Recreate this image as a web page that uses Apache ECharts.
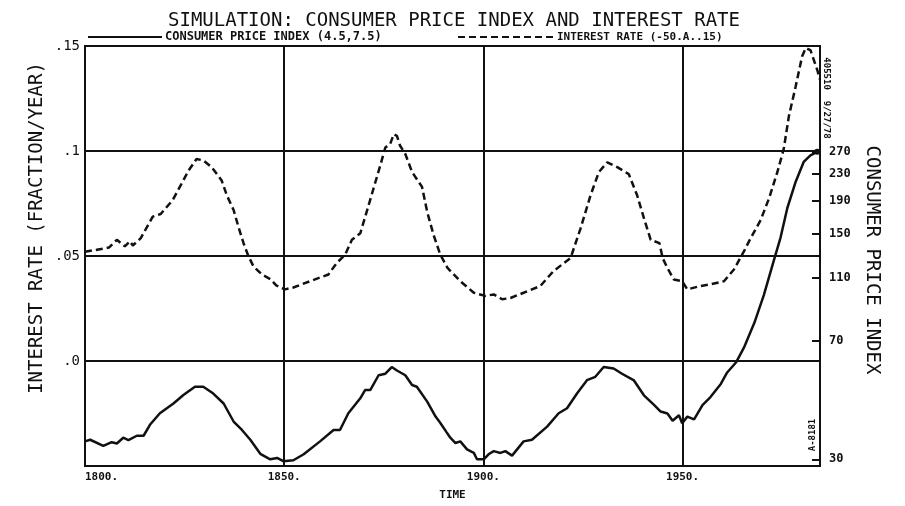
<!DOCTYPE html>
<html>
<head>
<meta charset="utf-8">
<script src="https://cdn.jsdelivr.net/npm/echarts@6/dist/echarts.min.js"></script>
<style>
html,body{margin:0;padding:0;background:#fff;}
#c{width:905px;height:506px;}
</style>
</head>
<body>
<div id="c"></div>
<script>
// ---- data ----
var rateYears = [1800,1803,1806,1808,1810,1811.3,1812,1814,1817,1819,1822,1824,1826,1828,1829.7,1831.8,1834.3,1835.6,1837.3,1838.5,1839.8,1841,1842.3,1844.4,1846.5,1848,1850.2,1852.3,1856.5,1861.1,1863.2,1865.3,1867,1869.1,1870.7,1872.4,1874.1,1875.4,1876.6,1877.5,1878.3,1879.1,1880.4,1882.1,1884.6,1885.9,1887.5,1889.2,1891,1894.2,1897.6,1900.5,1902.6,1904.7,1906.8,1910.1,1914.3,1917.6,1921.9,1924.4,1926.9,1929,1931.1,1933.6,1936.5,1938.6,1940.3,1942,1944.2,1945,1946.2,1947.8,1949.9,1951.2,1954.5,1957,1960.4,1962.9,1965.4,1967.1,1969.6,1971.7,1973.8,1975.4,1976.7,1978.4,1980,1980.9,1982.1,1983.8,1984.5];
var rateValues = [0.052,0.053,0.054,0.0577,0.0546,0.057,0.055,0.0585,0.0687,0.070,0.0766,0.0836,0.0907,0.0962,0.0955,0.0923,0.086,0.0789,0.0719,0.064,0.0561,0.050,0.045,0.0412,0.039,0.036,0.0341,0.035,0.038,0.0412,0.0467,0.0506,0.0577,0.0608,0.071,0.082,0.093,0.1017,0.1033,0.108,0.1072,0.1025,0.0986,0.090,0.0829,0.071,0.060,0.0506,0.0443,0.038,0.0325,0.031,0.0317,0.0294,0.030,0.0325,0.0357,0.0428,0.0491,0.0632,0.0789,0.090,0.0946,0.0923,0.089,0.0789,0.068,0.0577,0.0561,0.049,0.0443,0.0388,0.038,0.0341,0.0357,0.0365,0.038,0.0436,0.0522,0.0585,0.0671,0.0774,0.090,0.101,0.1167,0.1308,0.145,0.149,0.148,0.1387,0.134];

var cpiYears = [1800,1801.3,1804.6,1806.7,1808,1809.6,1810.9,1813,1814.7,1816.3,1818.8,1822.2,1824.7,1827.6,1829.7,1832.2,1834.8,1837.3,1839.4,1841.5,1844,1846.5,1848.2,1849.8,1852.3,1854.9,1859,1862.4,1864,1866.1,1869.1,1870.3,1871.6,1873.7,1875.4,1877,1878.3,1880.4,1882.1,1883.3,1885.9,1888,1889.2,1890.7,1891.7,1893,1894.2,1895.9,1897.6,1898.4,1900.1,1901.3,1902.6,1904.3,1905.5,1907.2,1910.1,1912.2,1916,1918.9,1921,1923.5,1926,1928.1,1930.2,1932.7,1934.8,1937.8,1940.3,1942.9,1944.5,1946.2,1947.5,1949.1,1949.9,1951.2,1952.9,1955,1957,1959.6,1961.2,1963.4,1965.4,1968,1970.4,1972.9,1974.6,1976.3,1978.4,1980.4,1982.1,1983.8];
var cpiValues = [34.1,34.5,33.0,33.9,33.6,35.0,34.4,35.5,35.5,38.4,41.7,44.7,47.5,50.4,50.4,48.0,44.7,39.3,37.0,34.5,31.2,30.0,30.3,29.6,29.8,31.1,34.1,37.0,37.0,41.7,46.4,49.2,49.2,54.7,55.3,58.0,56.6,54.7,51.0,50.4,45.3,40.7,38.9,36.5,35.0,33.7,34.1,32.2,31.4,30.0,30.0,31.1,31.8,31.4,31.8,30.8,34.1,34.5,37.9,41.7,43.2,48.0,52.8,54.1,58.0,57.4,55.3,52.7,47.4,44.2,42.2,41.6,39.5,41.1,38.8,40.7,39.9,44.2,46.8,51.4,55.8,59.9,66.6,79.4,97.0,124.1,146.3,180.7,218.1,251.1,263.2,270];

var timeTicks = [1800,1850,1900,1950];
var cpiTicks = [30,70,110,150,190,230,270];

var INK = '#111';
var MONO = 'DejaVu Sans Mono';

function pairs(xs, ys){ return xs.map(function(x,i){ return [x, ys[i]]; }); }

var cpiData = pairs(cpiYears, cpiValues).map(function(p,i,arr){
  if (i === arr.length-1) return {value:p, symbol:'circle', symbolSize:6, itemStyle:{color:INK}};
  return p;
});

var chart = echarts.init(document.getElementById('c'), null, {renderer:'canvas'});
chart.setOption({
  backgroundColor:'#fff',
  animation:false,
  title:{
    text:'SIMULATION: CONSUMER PRICE INDEX AND INTEREST RATE',
    left:163, top:7,
    textStyle:{fontFamily:MONO, fontSize:19, fontWeight:'normal', color:INK}
  },
  grid:{left:85, right:85, top:46, bottom:35, show:true, borderColor:INK, borderWidth:2, backgroundColor:'transparent'},
  xAxis:{
    type:'value', min:1800, max:1984.5, interval:50,
    name:'TIME', nameLocation:'middle', nameGap:24,
    nameTextStyle:{fontFamily:MONO, fontSize:11, fontWeight:'bold', color:INK},
    axisLine:{show:true, lineStyle:{color:INK, width:2}},
    axisTick:{show:false},
    axisLabel:{fontFamily:MONO, fontSize:11, fontWeight:'bold', color:INK, margin:6,
      showMaxLabel:false, alignMinLabel:'left',
      formatter:function(v){ return timeTicks.indexOf(v) >= 0 ? v + '.' : ''; }},
    splitLine:{show:true, lineStyle:{color:INK, width:2}}
  },
  yAxis:[{
    type:'value', min:-0.05, max:0.15, interval:0.05, position:'left',
    axisLine:{show:true, lineStyle:{color:INK, width:2}},
    axisTick:{show:false},
    axisLabel:{fontFamily:MONO, fontSize:14, color:INK, margin:5, showMinLabel:false,
      formatter:function(v){ var r=Math.round(v*100)/100; return r===0 ? '.0' : String(r).replace('0.','.'); }},
    splitLine:{show:true, lineStyle:{color:INK, width:2}}
  },{
    type:'log', logBase:Math.E, min:28.6, max:575, position:'right',
    axisLine:{show:true, lineStyle:{color:INK, width:2}},
    axisTick:{show:true, inside:true, length:8, customValues:cpiTicks, lineStyle:{color:INK, width:2}},
    axisLabel:{fontFamily:MONO, fontSize:12, fontWeight:'bold', color:INK, margin:9, customValues:cpiTicks,
      formatter:function(v){ return String(Math.round(v)); }},
    splitLine:{show:false}
  }],
  series:[{
    name:'CONSUMER PRICE INDEX', type:'line', yAxisIndex:1, data:cpiData,
    showSymbol:true, symbol:'none', lineStyle:{color:INK, width:2.5}, itemStyle:{color:INK}, z:3
  },{
    name:'INTEREST RATE', type:'line', yAxisIndex:0, data:pairs(rateYears, rateValues),
    symbol:'none', lineStyle:{color:INK, width:2.5, type:[7,4]}, z:3
  }],
  graphic:[
    {type:'line', shape:{x1:88, y1:37, x2:162, y2:37}, style:{stroke:INK, lineWidth:2}},
    {type:'text', x:165, y:37, style:{text:'CONSUMER PRICE INDEX (4.5,7.5)', fontFamily:MONO, fontSize:12, fontWeight:'bold', fill:INK, verticalAlign:'middle'}},
    {type:'line', shape:{x1:458, y1:37, x2:555, y2:37}, style:{stroke:INK, lineWidth:2, lineDash:[7,4]}},
    {type:'text', x:557, y:37, style:{text:'INTEREST RATE (-50.A..15)', fontFamily:MONO, fontSize:11, fontWeight:'bold', fill:INK, verticalAlign:'middle'}},
    {type:'text', x:37, y:228, rotation:Math.PI/2, style:{text:'INTEREST RATE (FRACTION/YEAR)', fontFamily:MONO, fontSize:19, fill:INK, align:'center', verticalAlign:'middle'}},
    {type:'text', x:872, y:260, rotation:-Math.PI/2, style:{text:'CONSUMER PRICE INDEX', fontFamily:MONO, fontSize:19, fill:INK, align:'center', verticalAlign:'middle'}},
    {type:'text', x:826, y:98, rotation:-Math.PI/2, style:{text:'405510  9/27/78', fontFamily:MONO, fontSize:9, fontWeight:'bold', fill:INK, align:'center', verticalAlign:'middle'}},
    {type:'text', x:813, y:435, rotation:Math.PI/2, style:{text:'A-8181', fontFamily:MONO, fontSize:9, fontWeight:'bold', fill:INK, align:'center', verticalAlign:'middle'}}
  ]
});
</script>
</body>
</html>
